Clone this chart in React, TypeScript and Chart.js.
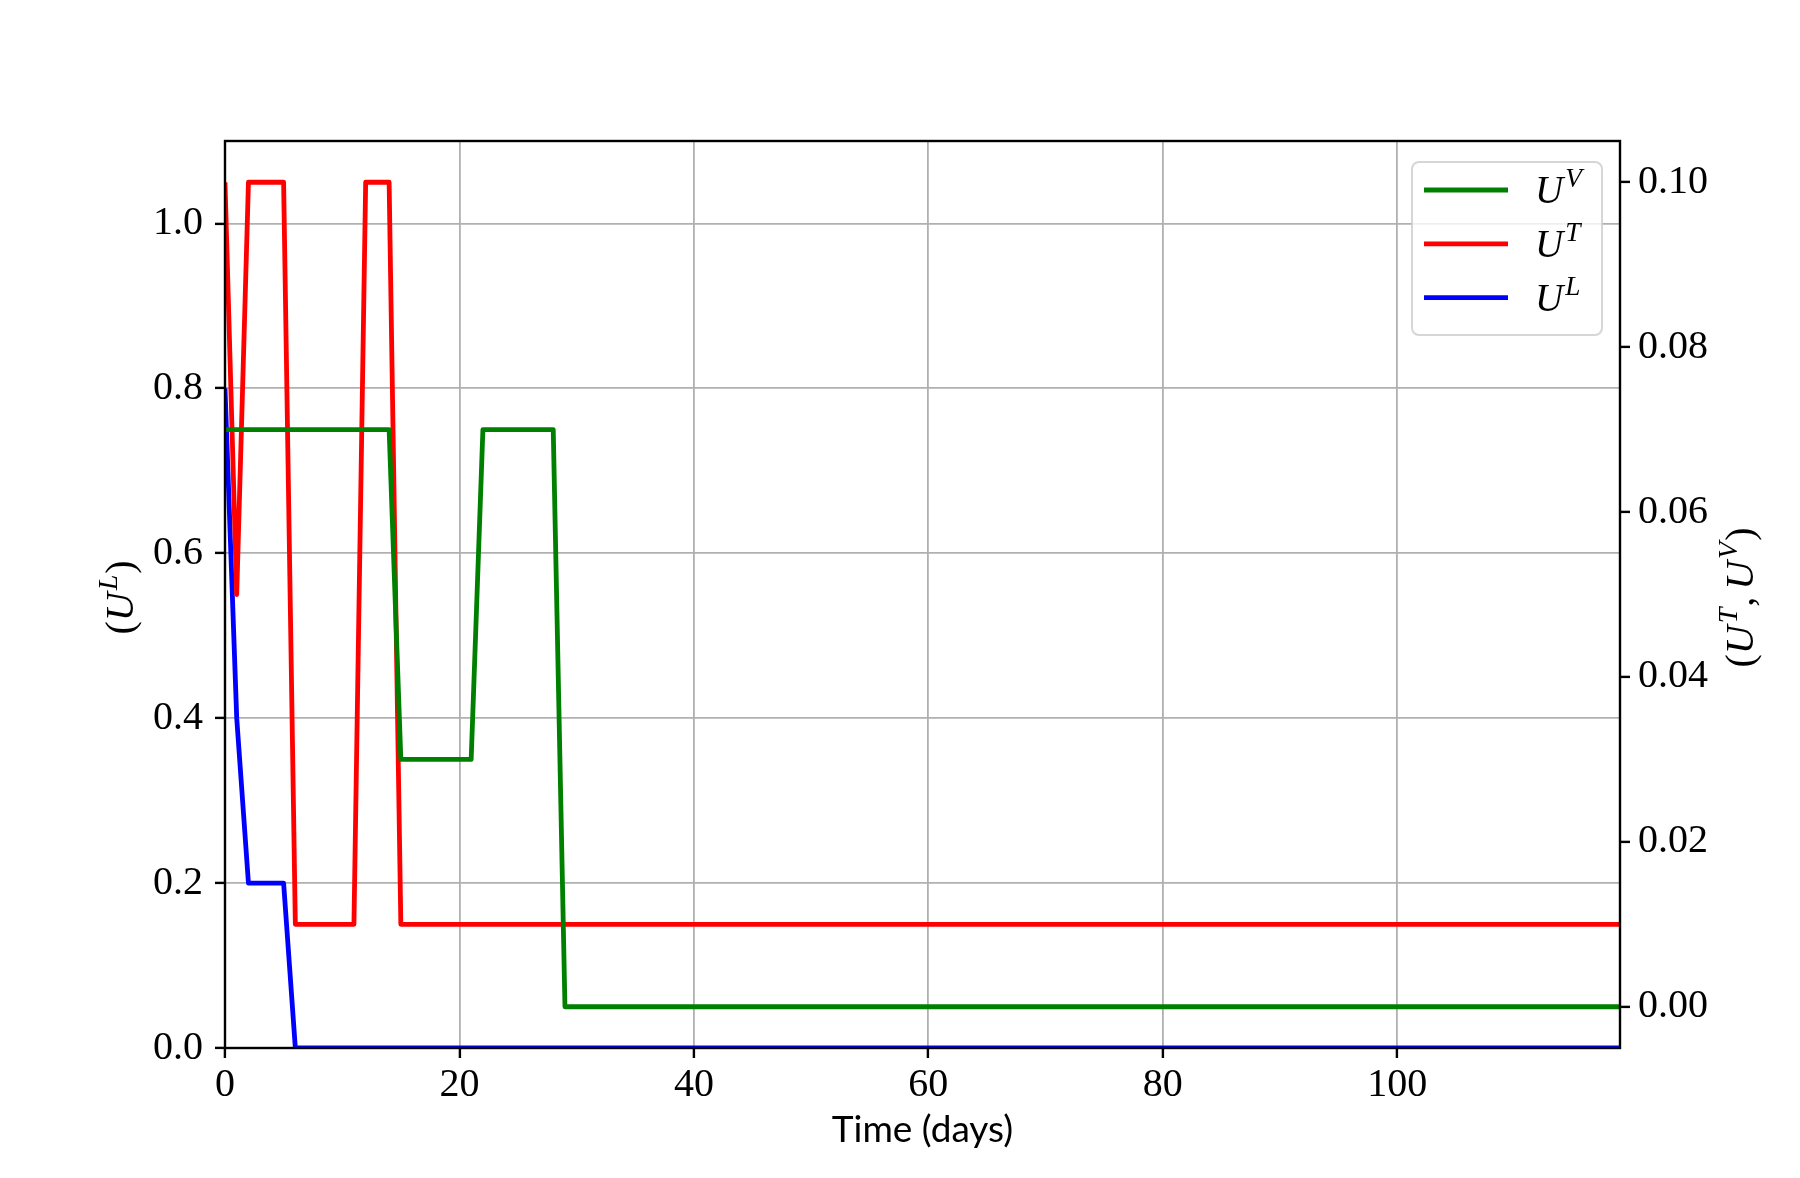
import React, { useEffect, useRef } from 'react';
import { Chart, registerables } from 'chart.js';

Chart.register(...registerables);

// ---- data ----
const uvDays = [0, 14, 15, 21, 22, 28, 29, 119];
const uvValues = [0.07, 0.07, 0.03, 0.03, 0.07, 0.07, 0.0, 0.0];

const utDays = [0, 1, 2, 5, 6, 11, 12, 14, 15, 119];
const utValues = [0.1, 0.05, 0.1, 0.1, 0.01, 0.01, 0.1, 0.1, 0.01, 0.01];

const ulDays = [0, 1, 2, 5, 6, 119];
const ulValues = [0.8, 0.4, 0.2, 0.2, 0.0, 0.0];

const xTicks = [0, 20, 40, 60, 80, 100];
const leftTicks = [0.0, 0.2, 0.4, 0.6, 0.8, 1.0];
const rightTicks = [0.0, 0.02, 0.04, 0.06, 0.08, 0.1];

const seriesSup = ['V', 'T', 'L'];
const seriesColors = ['#008000', '#ff0000', '#0000ff'];

const xTitle = 'Time (days)';

// ---- helpers ----
const SERIF = '"Liberation Serif", "DejaVu Serif", serif';
const SANS = 'Lato, "Liberation Sans", sans-serif';

type Part = { t: string; it?: boolean; sup?: boolean; gap?: number };

function partFont(p: Part, size: number) {
  const s = p.sup ? size * 0.7 : size;
  return `${p.it ? 'italic ' : ''}${s}px ${SERIF}`;
}

function measureParts(ctx: CanvasRenderingContext2D, parts: Part[], size: number) {
  let w = 0;
  for (const p of parts) {
    ctx.font = partFont(p, size);
    w += ctx.measureText(p.t).width + (p.gap || 0);
  }
  return w;
}

function drawParts(ctx: CanvasRenderingContext2D, parts: Part[], x: number, y: number, size: number) {
  let cx = x;
  for (const p of parts) {
    ctx.font = partFont(p, size);
    ctx.fillText(p.t, cx, p.sup ? y - size * 0.4 : y);
    cx += ctx.measureText(p.t).width + (p.gap || 0);
  }
}

const leftTitle: Part[] = [
  { t: '(' },
  { t: 'U', it: true, gap: 2 },
  { t: 'L', it: true, sup: true, gap: 1 },
  { t: ')' },
];
const rightTitle: Part[] = [
  { t: '(' },
  { t: 'U', it: true, gap: 2 },
  { t: 'T', it: true, sup: true, gap: 1 },
  { t: ',', gap: 7 },
  { t: 'U', it: true, gap: 2 },
  { t: 'V', it: true, sup: true, gap: 1 },
  { t: ')' },
];

function drawRotated(ctx: CanvasRenderingContext2D, parts: Part[], bx: number, cy: number, size: number) {
  const w = measureParts(ctx, parts, size);
  ctx.save();
  ctx.translate(bx, cy);
  ctx.rotate(-Math.PI / 2);
  drawParts(ctx, parts, -w / 2, 0, size);
  ctx.restore();
}

const framePlugin = {
  id: 'mplFrame',
  afterDatasetsDraw(chart: any) {
    const { ctx, chartArea } = chart;
    ctx.save();
    ctx.strokeStyle = '#000000';
    ctx.lineWidth = 2.4;
    ctx.strokeRect(chartArea.left, chartArea.top, chartArea.right - chartArea.left, chartArea.bottom - chartArea.top);
    ctx.restore();
  },
};

const titlesPlugin = {
  id: 'mplTitles',
  afterDraw(chart: any) {
    const { ctx, chartArea } = chart;
    const cy = (chartArea.top + chartArea.bottom) / 2 + 3;
    ctx.save();
    ctx.fillStyle = '#000000';
    ctx.textAlign = 'left';
    ctx.textBaseline = 'alphabetic';
    drawRotated(ctx, leftTitle, chartArea.left - 92, cy, 40);
    drawRotated(ctx, rightTitle, chartArea.right + 133, cy, 40);
    ctx.restore();
  },
};

const legendPlugin = {
  id: 'mplLegend',
  afterDraw(chart: any) {
    const { ctx, chartArea } = chart;
    const boxW = 190;
    const boxH = 173;
    const bx = chartArea.right - 18 - boxW;
    const by = chartArea.top + 21;
    const r = 7;
    ctx.save();
    ctx.beginPath();
    ctx.moveTo(bx + r, by);
    ctx.lineTo(bx + boxW - r, by);
    ctx.arcTo(bx + boxW, by, bx + boxW, by + r, r);
    ctx.lineTo(bx + boxW, by + boxH - r);
    ctx.arcTo(bx + boxW, by + boxH, bx + boxW - r, by + boxH, r);
    ctx.lineTo(bx + r, by + boxH);
    ctx.arcTo(bx, by + boxH, bx, by + boxH - r, r);
    ctx.lineTo(bx, by + r);
    ctx.arcTo(bx, by, bx + r, by, r);
    ctx.closePath();
    ctx.fillStyle = 'rgba(255,255,255,0.8)';
    ctx.fill();
    ctx.strokeStyle = 'rgba(204,204,204,0.8)';
    ctx.lineWidth = 2;
    ctx.stroke();

    chart.data.datasets.forEach((ds: any, i: number) => {
      const y = by + 28 + i * 53.8;
      ctx.beginPath();
      ctx.strokeStyle = ds.borderColor;
      ctx.lineWidth = 4.8;
      ctx.lineCap = 'butt';
      ctx.moveTo(bx + 12, y);
      ctx.lineTo(bx + 96, y);
      ctx.stroke();
      ctx.fillStyle = '#000000';
      ctx.textAlign = 'left';
      ctx.textBaseline = 'alphabetic';
      drawParts(
        ctx,
        [
          { t: 'U', it: true, gap: 2 },
          { t: ds.sup, it: true, sup: true },
        ],
        bx + 123,
        y + 13,
        39
      );
    });
    ctx.restore();
  },
};

function toPoints(xs: number[], ys: number[]) {
  return xs.map((x, i) => ({ x, y: ys[i] }));
}

export default function App() {
  const canvasRef = useRef<HTMLCanvasElement | null>(null);

  useEffect(() => {
    document.body.style.margin = '0';
    document.body.style.overflow = 'hidden';
    const canvas = canvasRef.current;
    if (!canvas) return;

    const tickFont = { family: SERIF, size: 40 };
    const gridBase = {
      color: '#b0b0b0',
      lineWidth: 1.8,
      tickColor: '#000000',
      tickWidth: 2.4,
      tickLength: 10,
      drawTicks: true,
    };

    const chart = new Chart(canvas, {
      type: 'line',
      data: {
        datasets: [
          {
            label: 'U^' + seriesSup[0],
            sup: seriesSup[0],
            data: toPoints(uvDays, uvValues),
            borderColor: seriesColors[0],
            yAxisID: 'yR',
          },
          {
            label: 'U^' + seriesSup[1],
            sup: seriesSup[1],
            data: toPoints(utDays, utValues),
            borderColor: seriesColors[1],
            yAxisID: 'yR',
          },
          {
            label: 'U^' + seriesSup[2],
            sup: seriesSup[2],
            data: toPoints(ulDays, ulValues),
            borderColor: seriesColors[2],
            yAxisID: 'yL',
          },
        ].map((d) => ({
          ...d,
          xAxisID: 'x',
          borderWidth: 4.8,
          pointRadius: 0,
          pointHoverRadius: 0,
          tension: 0,
          fill: false,
          borderJoinStyle: 'round',
          borderCapStyle: 'butt',
        })) as any,
      },
      options: {
        responsive: false,
        animation: false,
        devicePixelRatio: 1,
        layout: { padding: { top: 141, left: 0, right: 0, bottom: 0 } },
        plugins: {
          legend: { display: false },
          tooltip: { enabled: false },
          title: { display: false },
        },
        events: [],
        scales: {
          x: {
            type: 'linear',
            position: 'bottom',
            min: 0,
            max: 119,
            afterBuildTicks: (s: any) => {
              s.ticks = xTicks.map((v) => ({ value: v }));
            },
            afterFit: (s: any) => {
              s.height = 130;
            },
            ticks: {
              font: tickFont,
              color: '#000000',
              padding: 3,
              maxRotation: 0,
              autoSkip: false,
              callback: (v: any) => String(v),
            },
            grid: { ...gridBase, drawOnChartArea: true },
            border: { display: false },
            title: {
              display: true,
              text: xTitle,
              font: { family: SANS, size: 37 },
              color: '#000000',
              padding: { top: 0, bottom: 26 },
            },
          },
          yL: {
            type: 'linear',
            position: 'left',
            min: 0,
            max: 1.1,
            afterBuildTicks: (s: any) => {
              s.ticks = leftTicks.map((v) => ({ value: v }));
            },
            afterFit: (s: any) => {
              s.width = 225;
            },
            ticks: {
              font: tickFont,
              color: '#000000',
              padding: 12,
              autoSkip: false,
              callback: (v: any) => Number(v).toFixed(1),
            },
            grid: { ...gridBase, drawOnChartArea: true },
            border: { display: false },
          },
          yR: {
            type: 'linear',
            position: 'right',
            min: -0.005,
            max: 0.105,
            afterBuildTicks: (s: any) => {
              s.ticks = rightTicks.map((v) => ({ value: v }));
            },
            afterFit: (s: any) => {
              s.width = 180;
            },
            ticks: {
              font: tickFont,
              color: '#000000',
              padding: 8,
              autoSkip: false,
              callback: (v: any) => Number(v).toFixed(2),
            },
            grid: { ...gridBase, drawOnChartArea: false },
            border: { display: false },
          },
        },
      } as any,
      plugins: [framePlugin, titlesPlugin, legendPlugin],
    });

    return () => {
      chart.destroy();
    };
  }, []);

  return (
    <div style={{ position: 'absolute', left: 0, top: 0, width: 1800, height: 1178, background: '#ffffff' }}>
      <canvas ref={canvasRef} width={1800} height={1178} style={{ display: 'block', width: 1800, height: 1178 }} />
    </div>
  );
}
